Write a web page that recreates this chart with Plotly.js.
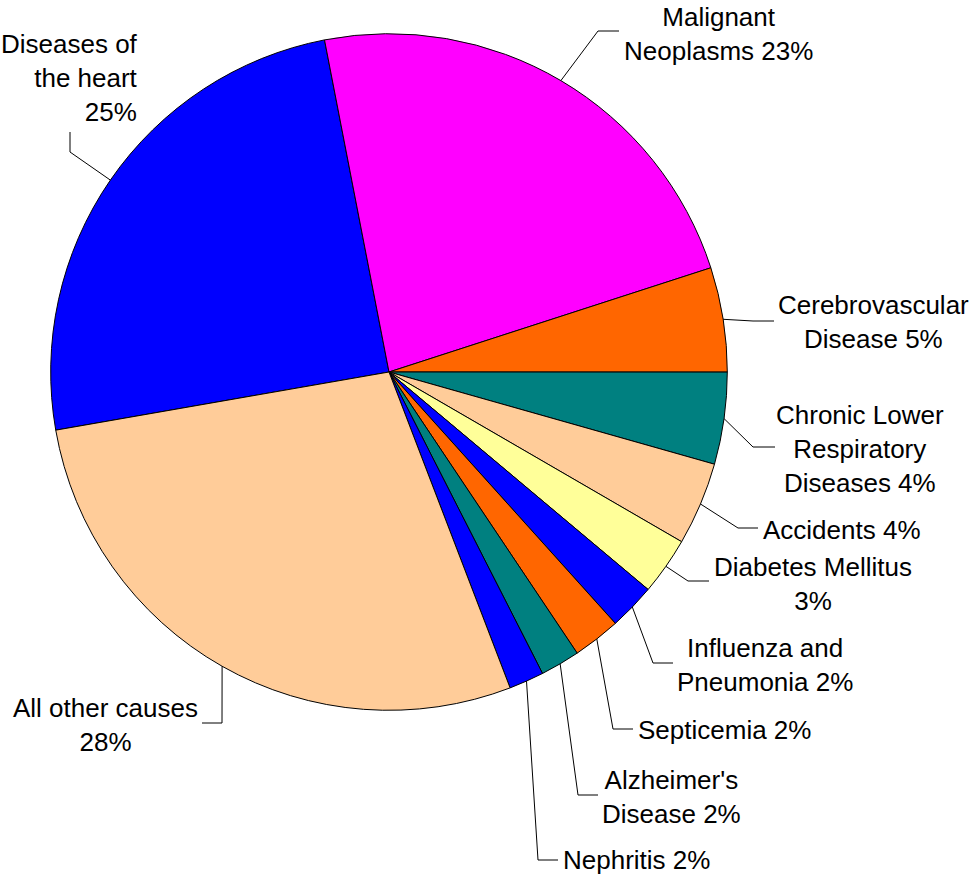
<!DOCTYPE html>
<html>
<head>
<meta charset="utf-8">
<script src="https://cdn.plot.ly/plotly-3.0.1.min.js"></script>
<style>
html,body{margin:0;padding:0;background:#ffffff;}
#chart{width:970px;height:877px;}
</style>
</head>
<body>
<div id="chart"></div>
<script>
// ---------------- DATA ----------------
const causes = [
  "Diseases of the heart",
  "Malignant Neoplasms",
  "Cerebrovascular Disease",
  "Chronic Lower Respiratory Diseases",
  "Accidents",
  "Diabetes Mellitus",
  "Influenza and Pneumonia",
  "Septicemia",
  "Alzheimer's Disease",
  "Nephritis",
  "All other causes"
];
// share of all deaths, percent
const shares = [24.7, 23.07, 4.99, 4.39, 3.97, 2.75, 2.22, 2.28, 1.89, 1.67, 28.08];
// how each label is broken into lines (percentage appended)
const labelText = [
  "Diseases of<br>the heart<br>",
  "Malignant<br>Neoplasms ",
  "Cerebrovascular<br>Disease ",
  "Chronic Lower<br>Respiratory<br>Diseases ",
  "Accidents ",
  "Diabetes Mellitus<br>",
  "Influenza and<br>Pneumonia ",
  "Septicemia ",
  "Alzheimer's<br>Disease ",
  "Nephritis ",
  "All other causes<br>"
];

// ---------------- STYLE / LAYOUT ----------------
const sliceColors = ["#0000FF","#FF00FF","#FF6600","#008080","#FFCC99","#FFFF99",
                     "#0000FF","#FF6600","#008080","#0000FF","#FFCC99"];
const W = 970, H = 877;
const CX = 389, CY = 372, R = 338.3;      // pie centre / radius in px
const ROT = 260.1;                          // start angle of first slice (clockwise from 12 o'clock)
const FONT = {family: "'Liberation Sans', Arial, sans-serif", size: 26, color: "#000000"};

// label placement (px): text position, alignment, leader elbow and end
const labelPlace = [
  {tx:140, ty:78,  xa:"right",  elbow:[70,152],  end:[70,132]},
  {tx:718, ty:34,  xa:"center", elbow:[598,31],  end:[619,31]},
  {tx:873, ty:322, xa:"center", elbow:[753,321], end:[774,321]},
  {tx:860, ty:449, xa:"center", elbow:[753,447], end:[775,447]},
  {tx:842, ty:530, xa:"center", elbow:[738,528], end:[758,528]},
  {tx:813, ty:584, xa:"center", elbow:[688,581], end:[709,581]},
  {tx:765, ty:665, xa:"center", elbow:[653,663], end:[673,663]},
  {tx:724, ty:730, xa:"center", elbow:[613,729], end:[633,729]},
  {tx:671, ty:797, xa:"center", elbow:[578,795], end:[598,795]},
  {tx:636, ty:860, xa:"center", elbow:[538,860], end:[558,860]},
  {tx:105, ty:725, xa:"center", elbow:[222,723], end:[202,723]}
];

const px2x = p => p / W;
const px2y = p => 1 - p / H;

const total = shares.reduce((a,b)=>a+b,0);
let cum = 0;
const annotations = [];
const shapes = [];
shares.forEach((v,i)=>{
  const mid = (ROT + (cum + v/2)/total*360) * Math.PI/180;
  cum += v;
  const ax = CX + R*Math.sin(mid);
  const ay = CY - R*Math.cos(mid);
  const L = labelPlace[i];
  shapes.push({
    type:"path", xref:"paper", yref:"paper",
    path:`M ${px2x(ax)} ${px2y(ay)} L ${px2x(L.elbow[0])} ${px2y(L.elbow[1])} L ${px2x(L.end[0])} ${px2y(L.end[1])}`,
    line:{color:"#000000", width:1}
  });
  annotations.push({
    xref:"paper", yref:"paper",
    x:px2x(L.tx), y:px2y(L.ty),
    xanchor:L.xa, yanchor:"middle",
    align:L.xa === "right" ? "right" : "center",
    showarrow:false,
    text: labelText[i] + Math.round(v) + "%",
    font: FONT
  });
});

const trace = {
  type:"pie",
  labels: causes,
  values: shares,
  sort:false,
  direction:"clockwise",
  rotation: ROT,
  textinfo:"none",
  hoverinfo:"label+percent",
  marker:{colors:sliceColors, line:{color:"#000000", width:1}},
  domain:{x:[px2x(CX-R), px2x(CX+R)], y:[px2y(CY+R), px2y(CY-R)]},
  showlegend:false
};

const layout = {
  width:W, height:H,
  margin:{l:0,r:0,t:0,b:0,pad:0},
  paper_bgcolor:"#ffffff",
  plot_bgcolor:"#ffffff",
  showlegend:false,
  font:FONT,
  annotations: annotations,
  shapes: shapes
};

Plotly.newPlot("chart", [trace], layout, {displayModeBar:false, staticPlot:true});
</script>
</body>
</html>
